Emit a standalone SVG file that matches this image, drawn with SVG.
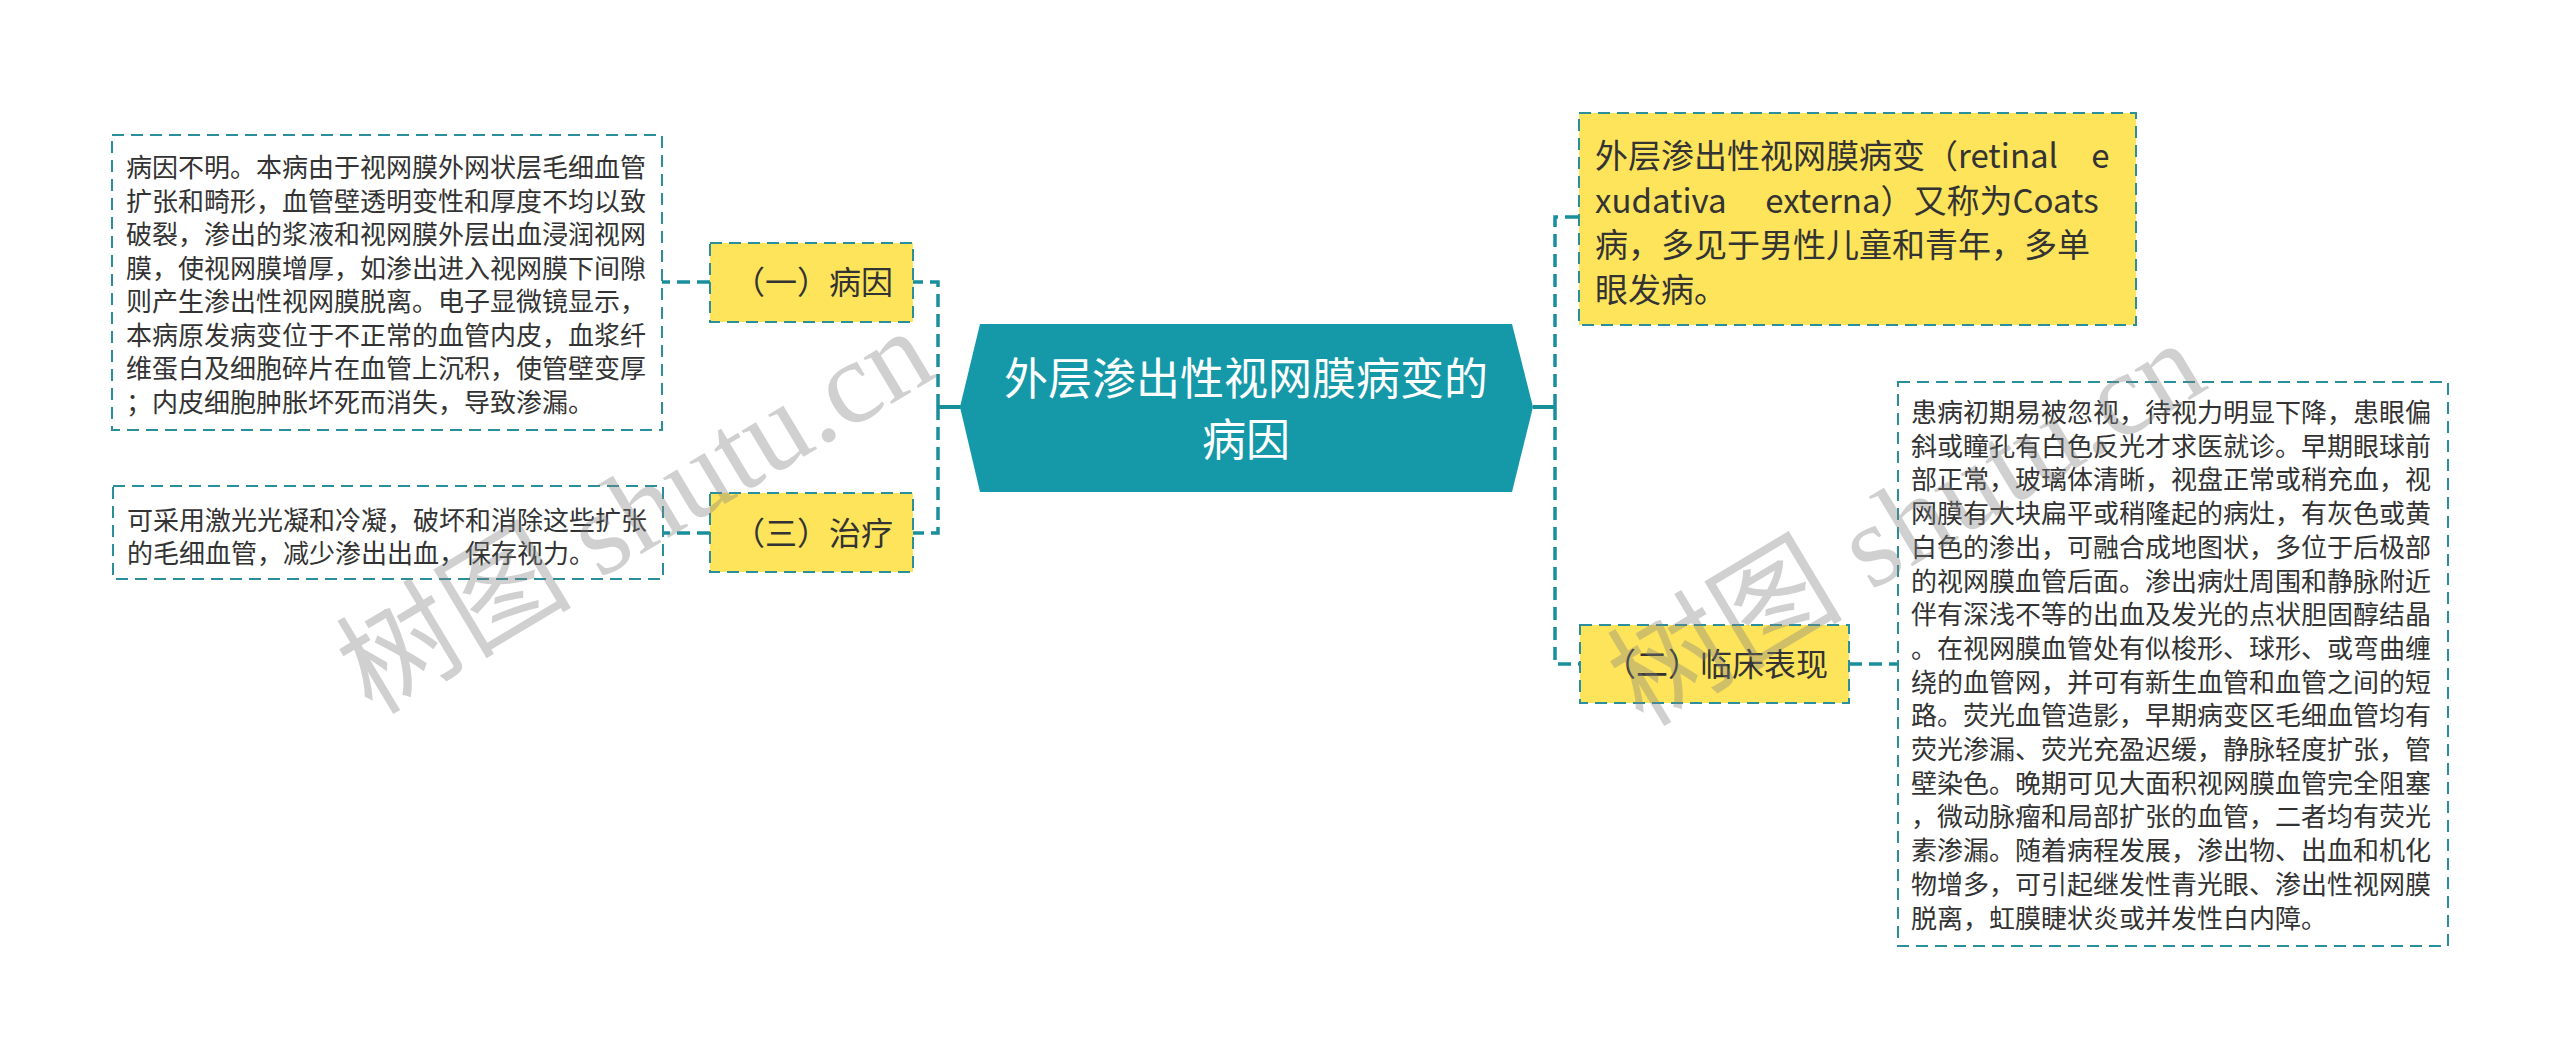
<svg xmlns="http://www.w3.org/2000/svg" width="2560" height="1059" viewBox="0 0 2560 1059">
<style>
.cjk{font-family:"Noto Sans CJK SC","Liberation Sans",sans-serif;}
.body{font-size:26px;fill:#333;}
.lbl{font-size:32px;fill:#333;text-anchor:middle;}
.desc{fill:#fff;stroke:#2a8f9a;stroke-width:2;stroke-dasharray:12 7;}
.yel{fill:#fde45b;stroke:#2a8f9a;stroke-width:2;stroke-dasharray:12 7;}
.con{fill:none;stroke:#1a8f9c;stroke-width:3.5;stroke-dasharray:13 7;}
.solid{fill:none;stroke:#1a8f9c;stroke-width:4;}
.wm{font-family:"Liberation Serif","Noto Sans CJK SC",serif;font-size:118px;fill:#808080;opacity:0.36;}
</style>
<rect width="2560" height="1059" fill="#fff"/>
<g id="connectors">
<path class="solid" d="M961 407 H938"/>
<path class="con" d="M938 407 V282 H913 M938 407 V533 H913"/>
<path class="con" d="M710 282 H662"/>
<path class="con" d="M710 533 H663"/>
<path class="solid" d="M1533 407 H1555"/>
<path class="con" d="M1555 407 V217 H1579 M1555 407 V664 H1580"/>
<path class="con" d="M1849 664 H1898"/>
</g>
<g id="root">
<polygon points="980,324 1512,324 1533,407 1512,492 980,492 960,407" fill="#1599a8"/>
<text class="cjk" x="1246" y="395" font-size="44" fill="#fff" text-anchor="middle">外层渗出性视网膜病变的</text>
<text class="cjk" x="1246" y="456" font-size="44" fill="#fff" text-anchor="middle">病因</text>
</g>
<g id="n-bingyin">
<rect class="yel" x="710" y="243" width="203" height="79"/>
<text class="cjk lbl" x="813" y="294">（一）病因</text>
</g>
<g id="n-bingyin-desc">
<rect class="desc" x="112" y="135" width="550" height="295"/>
<text class="cjk body" x="126" y="177">
<tspan x="126" y="177">病因不明。本病由于视网膜外网状层毛细血管</tspan>
<tspan x="126" y="210.5">扩张和畸形，血管壁透明变性和厚度不均以致</tspan>
<tspan x="126" y="244">破裂，渗出的浆液和视网膜外层出血浸润视网</tspan>
<tspan x="126" y="277.5">膜，使视网膜增厚，如渗出进入视网膜下间隙</tspan>
<tspan x="126" y="311">则产生渗出性视网膜脱离。电子显微镜显示，</tspan>
<tspan x="126" y="344.5">本病原发病变位于不正常的血管内皮，血浆纤</tspan>
<tspan x="126" y="378">维蛋白及细胞碎片在血管上沉积，使管壁变厚</tspan>
<tspan x="126" y="411.5">；内皮细胞肿胀坏死而消失，导致渗漏。</tspan>
</text>
</g>
<g id="n-zhiliao">
<rect class="yel" x="710" y="493" width="203" height="79"/>
<text class="cjk lbl" x="813" y="545">（三）治疗</text>
</g>
<g id="n-zhiliao-desc">
<rect class="desc" x="113" y="486" width="550" height="93"/>
<text class="cjk body">
<tspan x="127" y="530">可采用激光光凝和冷凝，破坏和消除这些扩张</tspan>
<tspan x="127" y="563">的毛细血管，减少渗出出血，保存视力。</tspan>
</text>
</g>
<g id="n-coats">
<rect class="yel" x="1579" y="113" width="557" height="212"/>
<text class="cjk" font-size="33" fill="#333">
<tspan x="1595" y="168">外层渗出性视网膜病变（retinal</tspan>
<tspan x="2117" y="168" text-anchor="end">e</tspan>
<tspan x="1595" y="212.5">xudativa</tspan>
<tspan x="2106" y="212.5" text-anchor="end">externa）又称为Coats</tspan>
<tspan x="1595" y="257">病，多见于男性儿童和青年，多单</tspan>
<tspan x="1595" y="301.5">眼发病。</tspan>
</text>
</g>
<g id="n-linchuang">
<rect class="yel" x="1580" y="625" width="269" height="78"/>
<text class="cjk lbl" x="1716" y="676">（二）临床表现</text>
</g>
<g id="n-linchuang-desc">
<rect class="desc" x="1898" y="382" width="550" height="564"/>
<text class="cjk body">
<tspan x="1911" y="422">患病初期易被忽视，待视力明显下降，患眼偏</tspan>
<tspan x="1911" y="455.7">斜或瞳孔有白色反光才求医就诊。早期眼球前</tspan>
<tspan x="1911" y="489.4">部正常，玻璃体清晰，视盘正常或稍充血，视</tspan>
<tspan x="1911" y="523.1">网膜有大块扁平或稍隆起的病灶，有灰色或黄</tspan>
<tspan x="1911" y="556.8">白色的渗出，可融合成地图状，多位于后极部</tspan>
<tspan x="1911" y="590.5">的视网膜血管后面。渗出病灶周围和静脉附近</tspan>
<tspan x="1911" y="624.2">伴有深浅不等的出血及发光的点状胆固醇结晶</tspan>
<tspan x="1911" y="657.9">。在视网膜血管处有似梭形、球形、或弯曲缠</tspan>
<tspan x="1911" y="691.6">绕的血管网，并可有新生血管和血管之间的短</tspan>
<tspan x="1911" y="725.3">路。荧光血管造影，早期病变区毛细血管均有</tspan>
<tspan x="1911" y="759">荧光渗漏、荧光充盈迟缓，静脉轻度扩张，管</tspan>
<tspan x="1911" y="792.7">壁染色。晚期可见大面积视网膜血管完全阻塞</tspan>
<tspan x="1911" y="826.4">，微动脉瘤和局部扩张的血管，二者均有荧光</tspan>
<tspan x="1911" y="860.1">素渗漏。随着病程发展，渗出物、出血和机化</tspan>
<tspan x="1911" y="893.8">物增多，可引起继发性青光眼、渗出性视网膜</tspan>
<tspan x="1911" y="927.5">脱离，虹膜睫状炎或并发性白内障。</tspan>
</text>
</g>
<g id="watermark">
<text class="wm" x="372" y="716" transform="rotate(-31 372 716)">树图 shutu.cn</text>
<text class="wm" x="1643" y="728" transform="rotate(-31 1643 728)">树图 shutu.cn</text>
</g>
</svg>
